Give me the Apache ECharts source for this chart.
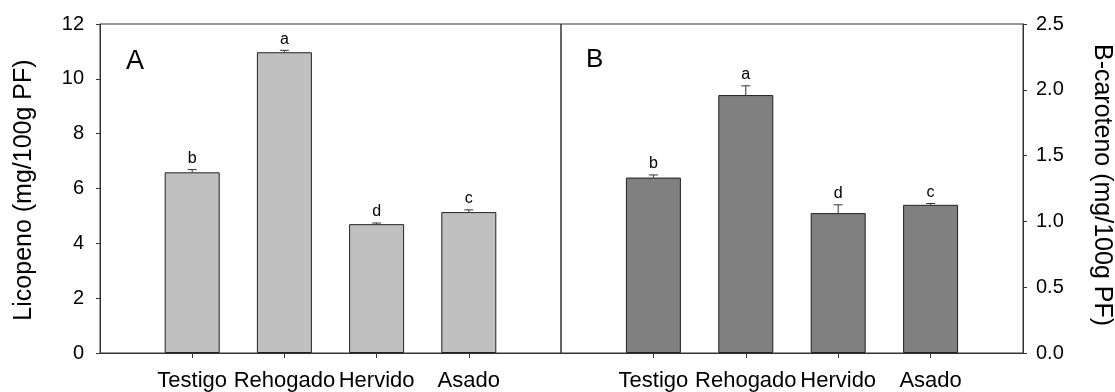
<!DOCTYPE html>
<html>
<head>
<meta charset="utf-8">
<script src="https://cdn.jsdelivr.net/npm/echarts@6/dist/echarts.min.js"></script>
<style>
html,body{margin:0;padding:0;background:#fff;}
#chart{width:1115px;height:392px;}
</style>
</head>
<body>
<div id="chart"></div>
<script>
var categories = ['Testigo', 'Rehogado', 'Hervido', 'Asado'];
var licopeno = [6.59, 10.97, 4.70, 5.14];
var licopenoErr = [0.10, 0.07, 0.04, 0.08];
var licopenoLetters = ['b', 'a', 'd', 'c'];
var caroteno = [1.333, 1.96, 1.063, 1.126];
var carotenoErr = [0.02, 0.07, 0.063, 0.01];
var carotenoLetters = ['b', 'a', 'd', 'c'];
var leftTicks = [0, 2, 4, 6, 8, 10, 12];
var rightTicks = [0, 0.5, 1.0, 1.5, 2.0, 2.5];

var FONT = "'Liberation Sans', Arial, sans-serif";
var LINE = '#333';
var positions = categories.map(function (c, i) { return i + 1; });

function barData(vals) {
  return vals.map(function (v, i) { return [positions[i], v]; });
}
function errData(vals, errs) {
  return vals.map(function (v, i) { return [positions[i], v, v + errs[i]]; });
}
function errRender(letters) {
  return function (params, api) {
    var x = api.value(0);
    var p0 = api.coord([x, api.value(1)]);
    var p1 = api.coord([x, api.value(2)]);
    var half = 4.5;
    return {
      type: 'group',
      children: [
        { type: 'line', shape: { x1: p0[0], y1: p0[1], x2: p1[0], y2: p1[1] }, style: { stroke: LINE, lineWidth: 1 } },
        { type: 'line', shape: { x1: p1[0] - half, y1: p1[1], x2: p1[0] + half, y2: p1[1] }, style: { stroke: LINE, lineWidth: 1 } },
        { type: 'text', x: p1[0], y: p1[1] - 3, style: { text: letters[params.dataIndex], font: '16px ' + FONT, fill: '#000', align: 'center', verticalAlign: 'bottom', textAlign: 'center', textVerticalAlign: 'bottom' } }
      ]
    };
  };
}

function xAxisFor(gridIndex) {
  return {
    type: 'value', gridIndex: gridIndex, min: 0, max: positions.length + 1, interval: 1,
    axisLine: { show: true, onZero: false, lineStyle: { color: LINE, width: 1 } },
    axisTick: { show: true, inside: false, length: 5, customValues: positions, lineStyle: { color: LINE } },
    axisLabel: {
      show: true, customValues: positions, margin: 17,
      fontFamily: FONT, fontSize: 22, color: '#000',
      formatter: function (v) { return categories[Math.round(v) - 1] || ''; }
    },
    splitLine: { show: false }
  };
}

var chart = echarts.init(document.getElementById('chart'));
chart.setOption({
  animation: false,
  backgroundColor: '#fff',
  grid: [
    { left: 100, right: 554, top: 24, bottom: 39, show: true, borderColor: LINE, borderWidth: 1, backgroundColor: 'transparent' },
    { left: 561, right: 92, top: 24, bottom: 39, show: true, borderColor: LINE, borderWidth: 1, backgroundColor: 'transparent' }
  ],
  xAxis: [xAxisFor(0), xAxisFor(1)],
  yAxis: [
    {
      type: 'value', gridIndex: 0, position: 'left', min: leftTicks[0], max: leftTicks[leftTicks.length - 1], interval: 2,
      axisLine: { show: true, onZero: false, lineStyle: { color: LINE } },
      axisTick: { show: true, inside: false, length: 4, lineStyle: { color: LINE } },
      axisLabel: { margin: 16, fontFamily: FONT, fontSize: 20, color: '#000' },
      splitLine: { show: false }
    },
    {
      type: 'value', gridIndex: 1, position: 'right', min: rightTicks[0], max: rightTicks[rightTicks.length - 1], interval: 0.5,
      axisLine: { show: true, onZero: false, lineStyle: { color: LINE } },
      axisTick: { show: true, inside: false, length: 4, lineStyle: { color: LINE } },
      axisLabel: { margin: 13, fontFamily: FONT, fontSize: 20, color: '#000', formatter: function (v) { return v.toFixed(1); } },
      splitLine: { show: false }
    }
  ],
  series: [
    {
      type: 'bar', xAxisIndex: 0, yAxisIndex: 0, barWidth: 55,
      data: barData(licopeno),
      itemStyle: { color: '#c0c0c0', borderColor: '#222', borderWidth: 1 }
    },
    {
      type: 'custom', xAxisIndex: 0, yAxisIndex: 0,
      data: errData(licopeno, licopenoErr),
      renderItem: errRender(licopenoLetters), z: 5
    },
    {
      type: 'bar', xAxisIndex: 1, yAxisIndex: 1, barWidth: 55,
      data: barData(caroteno),
      itemStyle: { color: '#808080', borderColor: '#222', borderWidth: 1 }
    },
    {
      type: 'custom', xAxisIndex: 1, yAxisIndex: 1,
      data: errData(caroteno, carotenoErr),
      renderItem: errRender(carotenoLetters), z: 5
    }
  ],
  graphic: [
    { type: 'text', x: 24, y: 190, rotation: Math.PI / 2,
      style: { text: 'Licopeno (mg/100g PF)', font: '25px ' + FONT, fill: '#000', align: 'center', verticalAlign: 'middle', textAlign: 'center', textVerticalAlign: 'middle' } },
    { type: 'text', x: 1102, y: 185, rotation: -Math.PI / 2,
      style: { text: 'B-caroteno (mg/100g PF)', font: '25px ' + FONT, fill: '#000', align: 'center', verticalAlign: 'middle', textAlign: 'center', textVerticalAlign: 'middle' } },
    { type: 'text', x: 126, y: 75,
      style: { text: 'A', font: '27px ' + FONT, fill: '#000', align: 'left', verticalAlign: 'bottom', textAlign: 'left', textVerticalAlign: 'bottom' } },
    { type: 'text', x: 586, y: 73,
      style: { text: 'B', font: '26px ' + FONT, fill: '#000', align: 'left', verticalAlign: 'bottom', textAlign: 'left', textVerticalAlign: 'bottom' } }
  ]
});
</script>
</body>
</html>
